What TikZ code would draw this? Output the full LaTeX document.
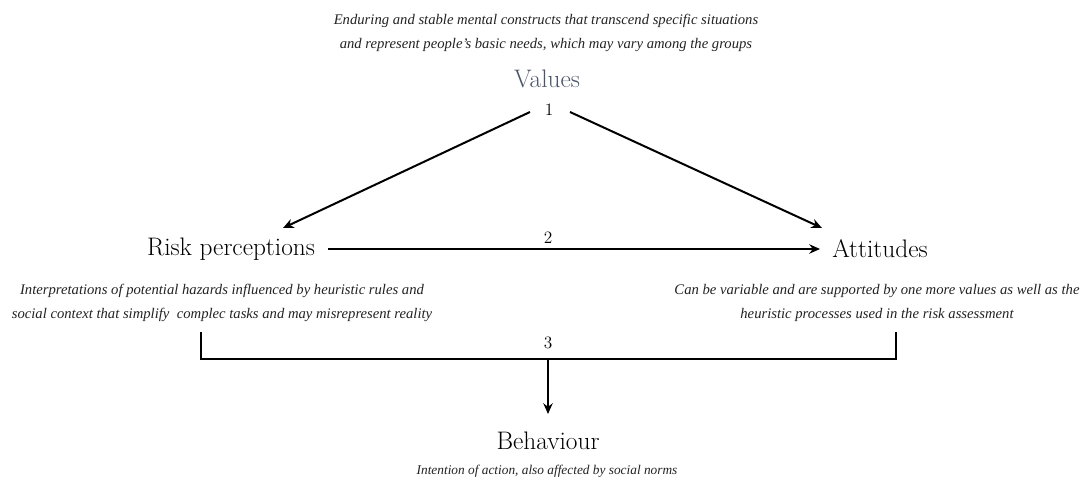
\documentclass[tikz,border=0pt]{standalone}
\usepackage{fontspec}
\newfontfamily\capfont{Liberation Serif}
\usetikzlibrary{arrows.meta}
\definecolor{valcol}{HTML}{4A5568}
\definecolor{capcol}{HTML}{222222}
\begin{document}
\begin{tikzpicture}[x=0.75pt,y=-0.75pt,
  main/.style={inner sep=0pt,font=\fontsize{19}{22}\selectfont},
  captxt/.style={inner sep=0pt,align=center,text=capcol,font=\capfont\fontsize{11}{18}\selectfont\itshape},
  num/.style={inner sep=1pt,font=\fontsize{13}{15}\selectfont},
  conn/.style={line width=1.5pt,-{Stealth[length=8pt,width=7pt]}},
  brk/.style={line width=1.5pt}]
\useasboundingbox (0,0) rectangle (1086,482);
\node[captxt] (vcap) at (546,33) {Enduring and stable mental constructs that transcend specific situations\\and represent people’s basic needs, which may vary among the groups};
\node[main,text=valcol] (val) at (547,79) {Values};
\node[num] (n1) at (549,110) {1};
\node[main] (risk) at (231,249) {Risk perceptions};
\node[main] (att) at (880,249) {Attitudes};
\node[num] (n2) at (548,238) {2};
\node[captxt] (rcap) at (222,303) {Interpretations of potential hazards influenced by heuristic rules and\\social context that simplify\ \ complec tasks and may misrepresent reality};
\node[captxt] (acap) at (877,303) {Can be variable and are supported by one more values as well as the\\heuristic processes used in the risk assessment};
\node[num] (n3) at (548,343) {3};
\node[main] (beh) at (548,441) {Behaviour};
\node[captxt,font=\capfont\fontsize{10}{12}\selectfont\itshape] (bcap) at (547,471) {Intention of action, also affected by social norms};
\coordinate (a1s) at (530,112);
\coordinate (a1e) at (283,228);
\coordinate (a2s) at (570,112);
\coordinate (a2e) at (822,228);
\draw[conn] (a1s) -- (a1e);
\draw[conn] (a2s) -- (a2e);
\coordinate (hs) at (328,249);
\coordinate (he) at (820,249);
\draw[conn] (hs) -- (he);
\coordinate (bl) at (201,332);
\coordinate (br) at (896,332);
\coordinate (bm) at (548,359);
\coordinate (bt) at (548,414);
\draw[brk] (bl) |- (br |- bm) -- (br);
\draw[conn] (bm) -- (bt);
\end{tikzpicture}
\end{document}
